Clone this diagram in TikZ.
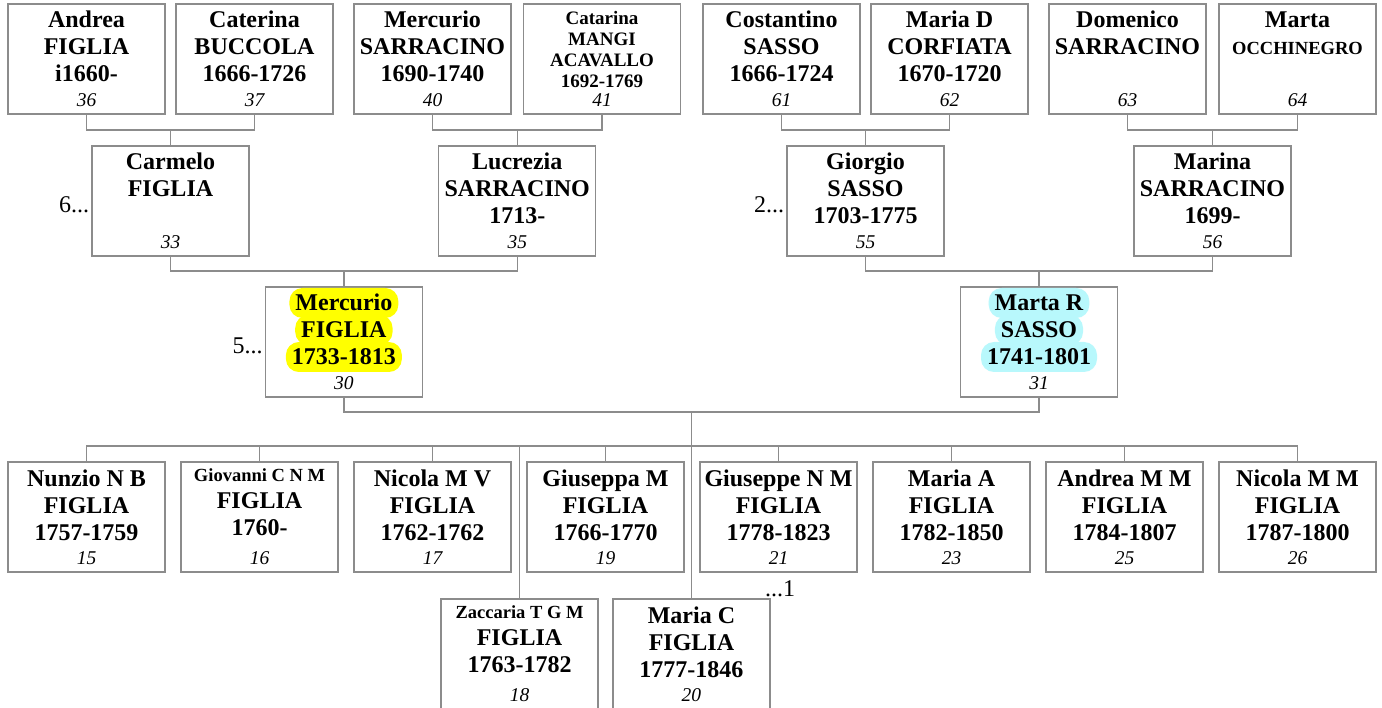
\documentclass[tikz,border=0pt]{standalone}
\usepackage{fontspec}
\setmainfont{Liberation Serif}
\definecolor{linegray}{RGB}{140,140,140}
\definecolor{hlyellow}{RGB}{255,255,0}
\definecolor{hlcyan}{RGB}{184,248,252}
\tikzset{
  pbox/.style={draw=linegray, line width=1.2pt, minimum width=157pt, minimum height=110pt, inner sep=0pt, fill=white},
  nametext/.style={anchor=north, align=center, inner sep=0pt, font=\fontsize{24}{27}\selectfont\bfseries},
  nametextS/.style={font=\fontsize{19}{21}\selectfont\bfseries},
  numtext/.style={anchor=base, inner sep=0pt, font=\fontsize{19.5}{22}\selectfont\itshape},
  conn/.style={draw=linegray, line width=1.2pt},
  hl/.style={anchor=base, fill=#1, rounded corners=13pt, inner xsep=6pt, inner ysep=0pt, text height=23pt, text depth=7pt, font=\fontsize{24}{27}\selectfont\bfseries},
  side/.style={anchor=east, inner sep=0pt, font=\fontsize{24}{27}\selectfont}
}
\newcommand\fambox[6][]{%
  \node[pbox] (b#2) at (#3,#4) {};
  \node[nametext,#1] (t#2) at ([yshift=-5.5pt]b#2.north) {#5};
  \node[numtext] (n#2) at ([yshift=8pt]b#2.south) {#6};}
\newcommand\smallfirst[1]{{\fontsize{18.5}{21}\selectfont\strut #1}}
\begin{document}
\begin{tikzpicture}[x=1pt,y=-1pt]
\useasboundingbox (0,0) rectangle (1382,708);
% ---------- row 1 ----------
\fambox{36}{86.5}{59}{\strut Andrea\\FIGLIA\\i1660-}{36}
\fambox{37}{254.5}{59}{\strut Caterina\\BUCCOLA\\1666-1726}{37}
\fambox{40}{432.5}{59}{\strut Mercurio\\SARRACINO\\1690-1740}{40}
\fambox[nametextS,yshift=-1pt]{41}{602}{59}{\strut Catarina\\MANGI\\ACAVALLO\\1692-1769}{41}
\fambox{61}{781.5}{59}{\strut Costantino\\SASSO\\1666-1724}{61}
\fambox{62}{949.5}{59}{\strut Maria D\\CORFIATA\\1670-1720}{62}
\fambox{63}{1127.5}{59}{\strut Domenico\\SARRACINO}{63}
\fambox{64}{1297.5}{59}{\strut Marta\\{\fontsize{18.5}{21}\selectfont OCCHINEGRO}}{64}
% ---------- row 2 ----------
\fambox{33}{170.5}{201}{\strut Carmelo\\FIGLIA}{33}
\fambox{35}{517.25}{201}{\strut Lucrezia\\SARRACINO\\1713-}{35}
\fambox{55}{865.5}{201}{\strut Giorgio\\SASSO\\1703-1775}{55}
\fambox{56}{1212.5}{201}{\strut Marina\\SARRACINO\\1699-}{56}
% ---------- row 3 ----------
\fambox{30}{343.9}{342}{}{30}
\fambox{31}{1039}{342}{}{31}
\node[hl=hlyellow] (h30a) at (343.9,311) {Mercurio};
\node[hl=hlyellow] (h30b) at (343.9,338) {FIGLIA};
\node[hl=hlyellow] (h30c) at (343.9,365) {1733-1813};
\node[hl=hlcyan] (h31a) at (1039,311) {Marta R};
\node[hl=hlcyan] (h31b) at (1039,338) {SASSO};
\node[hl=hlcyan] (h31c) at (1039,365) {1741-1801};
% ---------- row 4 ----------
\fambox{15}{86.5}{517}{\strut Nunzio N B\\FIGLIA\\1757-1759}{15}
\fambox{16}{259.5}{517}{\smallfirst{Giovanni C N M}\\FIGLIA\\1760-}{16}
\fambox{17}{432.5}{517}{\strut Nicola M V\\FIGLIA\\1762-1762}{17}
\fambox{19}{605.5}{517}{\strut Giuseppa M\\FIGLIA\\1766-1770}{19}
\fambox{21}{778.5}{517}{\strut Giuseppe N M\\FIGLIA\\1778-1823}{21}
\fambox{23}{951.5}{517}{\strut Maria A\\FIGLIA\\1782-1850}{23}
\fambox{25}{1124.5}{517}{\strut Andrea M M\\FIGLIA\\1784-1807}{25}
\fambox{26}{1297.5}{517}{\strut Nicola M M\\FIGLIA\\1787-1800}{26}
% ---------- row 5 ----------
\fambox{18}{519.5}{654}{\smallfirst{Zaccaria T G M}\\FIGLIA\\1763-1782}{18}
\fambox{20}{691.45}{654}{\strut Maria C\\FIGLIA\\1777-1846}{20}
% ---------- side labels ----------
\node[side] (s33) at ([xshift=-2pt,yshift=-4pt]b33.west) {6...};
\node[side] (s30) at ([xshift=-2pt,yshift=-4pt]b30.west) {5...};
\node[side] (s55) at ([xshift=-2pt,yshift=-4pt]b55.west) {2...};
\node[side,anchor=center] (s21) at ([xshift=1.5pt,yshift=-16pt]b21.south) {...1};
% ---------- connectors ----------
\coordinate (j33) at (170.5,130);
\coordinate (j35) at (517.25,130);
\coordinate (j55) at (865.5,130);
\coordinate (j56) at (1212.5,130);
\coordinate (j30) at (343.9,271);
\coordinate (j31) at (1039,271);
\coordinate (jc) at (691.45,412);
\coordinate (barL) at (86.5,446);
\coordinate (barR) at (1297.5,446);
\draw[conn] (b36.south) |- (j33) -| (b37.south);
\draw[conn] (j33) -- (b33.north);
\draw[conn] (b40.south) |- (j35) -| (b41.south);
\draw[conn] (j35) -- (b35.north);
\draw[conn] (b61.south) |- (j55) -| (b62.south);
\draw[conn] (j55) -- (b55.north);
\draw[conn] (b63.south) |- (j56) -| (b64.south);
\draw[conn] (j56) -- (b56.north);
\draw[conn] (b33.south) |- (j30) -| (b35.south);
\draw[conn] (j30) -- (b30.north);
\draw[conn] (b55.south) |- (j31) -| (b56.south);
\draw[conn] (j31) -- (b31.north);
\draw[conn] (b30.south) |- (jc) -| (b31.south);
\draw[conn] (jc) -- (b20.north);
\draw[conn] (b15.north) -- (barL) -- (barR) -- (b26.north);
\draw[conn] (b16.north) -- (b16.north |- barL);
\draw[conn] (b17.north) -- (b17.north |- barL);
\draw[conn] (b19.north) -- (b19.north |- barL);
\draw[conn] (b21.north) -- (b21.north |- barL);
\draw[conn] (b23.north) -- (b23.north |- barL);
\draw[conn] (b25.north) -- (b25.north |- barL);
\draw[conn] (b18.north) -- (b18.north |- barL);
\end{tikzpicture}
\end{document}
